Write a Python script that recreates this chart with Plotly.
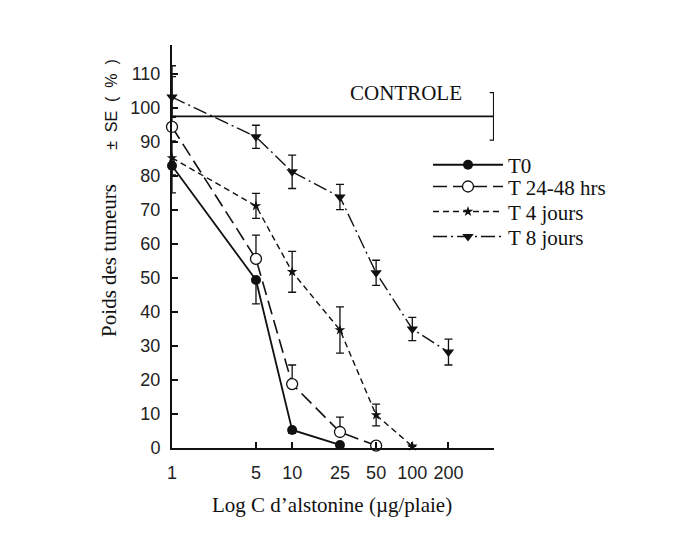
import plotly.graph_objects as go

# ---- data ----
DOSES = [1, 5, 10, 25, 50, 100, 200]
X_TICK_LABELS = ["1", "5", "10", "25", "50", "100", "200"]
Y_TICKS = [0, 10, 20, 30, 40, 50, 60, 70, 80, 90, 100, 110]

T0_X = [1, 5, 10, 25]
T0_Y = [83, 49.4, 5.3, 0.9]
T0_ERR = [8, 7, 1, 0]

T24_X = [1, 5, 10, 25, 50]
T24_Y = [94.4, 55.6, 18.8, 4.7, 0.7]
T24_ERR = [18, 7, 5.6, 4.4, 0]

T4_X = [1, 5, 10, 25, 50, 100]
T4_Y = [85.3, 71.2, 51.8, 34.7, 9.7, 0.5]
T4_ERR = [5, 3.7, 6, 6.8, 3.2, 0]

T8_X = [1, 5, 10, 25, 50, 100, 200]
T8_Y = [103.2, 91.5, 81.2, 73.8, 51.5, 35, 28.2]
T8_ERR = [6, 3.4, 4.9, 3.7, 3.7, 3.4, 3.8]

CONTROL_X = [1, 475]
CONTROL_Y = [97.5, 97.5]
CONTROL_ERR = [0, 7]

SERIF = "Liberation Serif"
SANS = "Liberation Sans"
BLACK = "#111111"

fig = go.Figure()

def err(arr, sym=True, minus=None):
    d = dict(type="data", array=arr, color=BLACK, thickness=1.3, width=4, visible=True)
    if not sym:
        d["symmetric"] = False
        d["arrayminus"] = minus
    return d

# control line
fig.add_trace(go.Scatter(
    x=CONTROL_X, y=CONTROL_Y, mode="lines", showlegend=False,
    line=dict(color=BLACK, width=1.8),
    error_y=err(CONTROL_ERR), cliponaxis=False))

fig.add_trace(go.Scatter(
    x=T0_X, y=T0_Y, mode="lines+markers", name="T0", legend="legend",
    line=dict(color=BLACK, width=1.8, dash="solid"),
    marker=dict(symbol="circle", size=10, color=BLACK),
    error_y=err([0] * len(T0_ERR), sym=False, minus=T0_ERR), cliponaxis=False))

fig.add_trace(go.Scatter(
    x=T24_X, y=T24_Y, mode="lines+markers", name="T 24-48 hrs", legend="legend2",
    line=dict(color=BLACK, width=1.6, dash="14px,6px"),
    marker=dict(symbol="circle", size=11, color="white", line=dict(color=BLACK, width=1.3)),
    error_y=err(T24_ERR, sym=False, minus=[0] * len(T24_ERR)), cliponaxis=False))

fig.add_trace(go.Scatter(
    x=T4_X, y=T4_Y, mode="lines+markers", name="T 4 jours", legend="legend3",
    line=dict(color=BLACK, width=1.4, dash="6px,4px"),
    marker=dict(symbol="star", size=8, color=BLACK),
    error_y=err(T4_ERR), cliponaxis=False))

fig.add_trace(go.Scatter(
    x=T8_X, y=T8_Y, mode="lines+markers", name="T 8 jours", legend="legend4",
    line=dict(color=BLACK, width=1.4, dash="14px,4px,2px,4px"),
    marker=dict(symbol="triangle-down", size=10, color=BLACK),
    error_y=err(T8_ERR), cliponaxis=False))

def leg(y):
    return dict(x=0.795, y=y, xanchor="left", yanchor="middle",
                font=dict(family=SERIF, size=21, color=BLACK),
                bgcolor="rgba(0,0,0,0)", itemwidth=70, borderwidth=0)

fig.update_layout(
    width=677, height=546,
    paper_bgcolor="white", plot_bgcolor="white",
    margin=dict(l=172, r=183, t=45, b=98, autoexpand=False),
    font=dict(family=SERIF, color=BLACK),
    showlegend=True,
    legend=leg(0.702), legend2=leg(0.648), legend3=leg(0.586), legend4=leg(0.524),
    xaxis=dict(
        type="log", range=[0, 2.68],
        tickvals=DOSES + [475], ticktext=X_TICK_LABELS + [""],
        ticks="inside", ticklen=6, tickwidth=1.5, tickcolor=BLACK,
        showline=True, linewidth=2, linecolor=BLACK,
        showgrid=False, zeroline=False,
        tickfont=dict(family=SANS, size=18, color="#222222"),
        ticklabelstandoff=7,
    ),
    yaxis=dict(
        range=[0, 118.5],
        tickvals=Y_TICKS + [118.5], ticktext=[str(v) for v in Y_TICKS] + [""],
        ticks="inside", ticklen=6, tickwidth=1.5, tickcolor=BLACK,
        showline=True, linewidth=2, linecolor=BLACK,
        showgrid=False, zeroline=False,
        tickfont=dict(family=SANS, size=18, color="#222222"),
        ticklabelstandoff=6,
    ),
    annotations=[
        dict(text="CONTROLE", xref="paper", yref="paper", x=0.727, y=0.881,
             showarrow=False, font=dict(family=SERIF, size=21, color=BLACK),
             xanchor="center", yanchor="middle"),
        dict(text="Log C d\u2019alstonine (\u00b5g/plaie)", xref="paper", yref="paper",
             x=0.497, y=-0.141, showarrow=False,
             font=dict(family=SERIF, size=21, color=BLACK),
             xanchor="center", yanchor="middle"),
        dict(text="Poids des tumeurs",
             xref="paper", yref="paper", x=-0.196, y=(448 - 260) / 403, textangle=-90,
             showarrow=False, font=dict(family=SERIF, size=21, color=BLACK),
             xanchor="center", yanchor="middle"),
        dict(text="\u00b1  SE  (  %  )",
             xref="paper", yref="paper", x=-0.190, y=(448 - 104) / 403, textangle=-90,
             showarrow=False, font=dict(family=SANS, size=16, color=BLACK),
             xanchor="center", yanchor="middle"),
    ],
)

fig.write_html("out.html")
